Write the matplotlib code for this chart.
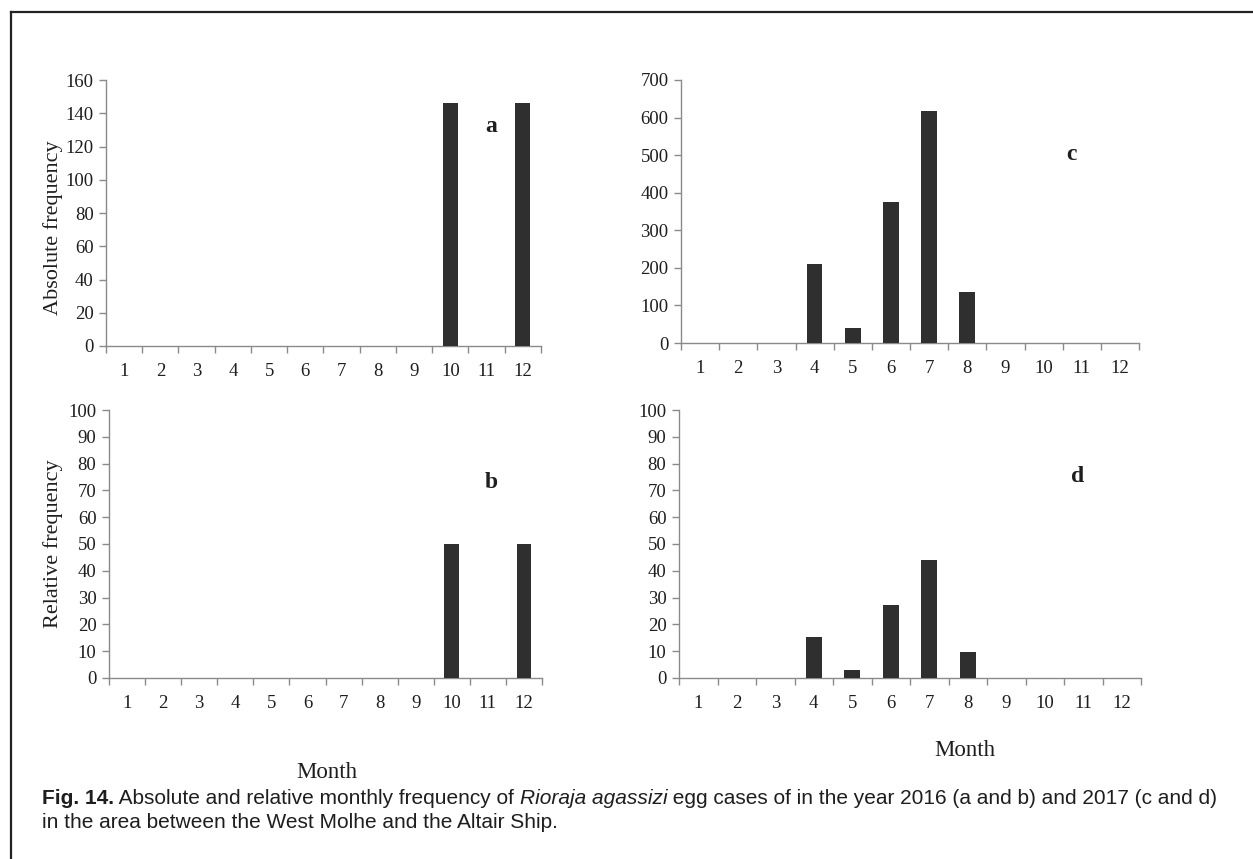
import numpy as np
import matplotlib
matplotlib.use("Agg")
import matplotlib.pyplot as plt
from matplotlib.lines import Line2D

months = list(range(1, 13))

# 2016 egg cases (a: absolute, b: relative %)
abs_2016 = [0, 0, 0, 0, 0, 0, 0, 0, 0, 146, 0, 146]
rel_2016 = [0, 0, 0, 0, 0, 0, 0, 0, 0, 50, 0, 50]

# 2017 egg cases (c: absolute, d: relative %)
abs_2017 = [0, 0, 0, 211, 39, 376, 618, 136, 0, 0, 0, 0]
rel_2017 = [0, 0, 0, 15.3, 2.8, 27.2, 44.0, 9.8, 0, 0, 0, 0]

plt.rcParams["font.family"] = ["Liberation Serif", "DejaVu Serif"]

W, H = 1253, 859
fig = plt.figure(figsize=(W / 100, H / 100), dpi=100)

bar_color = "#2f2f2f"
axis_color = "#8a8a8a"
text_color = "#1e1e1e"


def px_axes(left, top, right, bottom):
    return fig.add_axes([left / W, 1 - bottom / H, (right - left) / W, (bottom - top) / H])


def style_panel(ax, values, ymax, ystep):
    ax.bar(months, values, width=0.41, color=bar_color, zorder=3)
    ax.set_xlim(0.5, 12.5)
    ax.set_ylim(0, ymax)
    ax.set_yticks(np.arange(0, ymax + 1, ystep))
    for s in ["top", "right"]:
        ax.spines[s].set_visible(False)
    for s in ["left", "bottom"]:
        ax.spines[s].set_color(axis_color)
        ax.spines[s].set_linewidth(1.0)
    # category boundaries get the tick marks, labels sit in the middle
    ax.set_xticks(np.arange(0.5, 13, 1))
    ax.set_xticklabels([])
    ax.set_xticks(months, minor=True)
    ax.set_xticklabels([str(m) for m in months], minor=True)
    ax.tick_params(axis="x", which="major", direction="out", length=5,
                   color=axis_color, width=1.0)
    ax.tick_params(axis="x", which="minor", length=0, pad=12,
                   labelsize=13.5, labelcolor=text_color)
    ax.tick_params(axis="y", direction="out", length=5, color=axis_color,
                   width=1.0, labelsize=13.5, labelcolor=text_color, pad=4)


ax_a = px_axes(106, 80, 541, 346)
style_panel(ax_a, abs_2016, 160, 20)
ax_c = px_axes(681, 80, 1139, 343)
style_panel(ax_c, abs_2017, 700, 100)
ax_b = px_axes(109, 410, 542, 678)
style_panel(ax_b, rel_2016, 100, 10)
ax_d = px_axes(679, 410, 1141, 678)
style_panel(ax_d, rel_2017, 100, 10)


def ftext(x, y, s, **kw):
    return fig.text(x / W, 1 - y / H, s, **kw)


ftext(53, 228, "Absolute frequency", rotation=90, ha="center", va="center",
      fontsize=16, color=text_color)
ftext(53, 544, "Relative frequency", rotation=90, ha="center", va="center",
      fontsize=16, color=text_color)
ftext(327, 772, "Month", ha="center", va="center", fontsize=16.5, color=text_color)
ftext(965, 750, "Month", ha="center", va="center", fontsize=16.5, color=text_color)

for (x, y, s) in [(491, 127, "a"), (1071, 155, "c"), (491, 483, "b"), (1078, 477, "d")]:
    ftext(x, y, s, ha="center", va="center", fontsize=17, fontweight="bold",
          color=text_color)

# frame round the figure (only left and top edges are inside the picture)
fig.add_artist(Line2D([11 / W, 11 / W], [0, 1 - 12 / H], color="#222222", lw=1.6))
fig.add_artist(Line2D([11 / W, 1], [1 - 12 / H, 1 - 12 / H], color="#222222", lw=1.6))

# caption with mixed bold / italic runs
renderer = fig.canvas.get_renderer()
cap_font = ["Liberation Sans", "DejaVu Sans"]
cap_size = 15


def put_runs(x, y, runs):
    for s, weight, style in runs:
        t = ftext(x, y, s, ha="left", va="center", fontsize=cap_size,
                  family=cap_font, fontweight=weight, fontstyle=style,
                  color=text_color)
        x += t.get_window_extent(renderer).width


put_runs(42, 799, [("Fig. 14.", "bold", "normal"),
                   (" Absolute and relative monthly frequency of ", "normal", "normal"),
                   ("Rioraja agassizi", "normal", "italic"),
                   (" egg cases of in the year 2016 (a and b) and 2017 (c and d)",
                    "normal", "normal")])
put_runs(42, 822, [("in the area between the West Molhe and the Altair Ship.",
                    "normal", "normal")])

fig.savefig("out.png", dpi=100)
